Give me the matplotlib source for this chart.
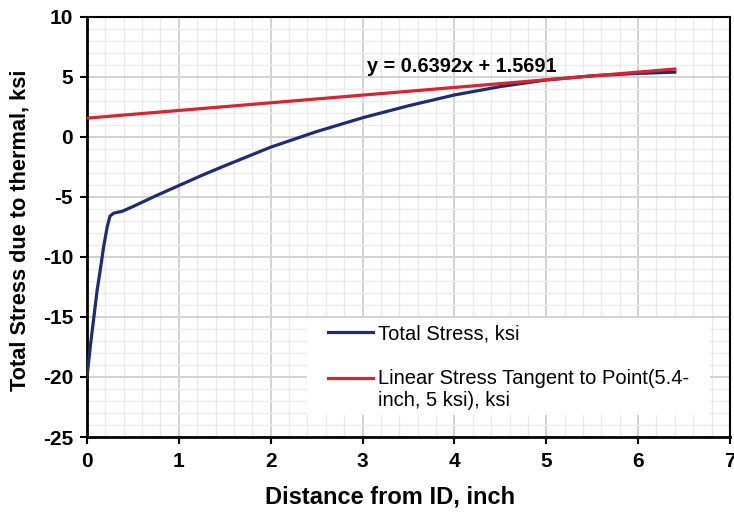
import numpy as np
import matplotlib
matplotlib.use('Agg')
import matplotlib.pyplot as plt
from matplotlib.patches import Rectangle
from matplotlib.ticker import MultipleLocator

# total stress curve
dist = [0.0, 0.04, 0.08, 0.11, 0.15, 0.18, 0.22, 0.25, 0.29, 0.33, 0.38,
        0.5, 0.75, 1.0, 1.25, 1.5, 2.0, 2.5, 3.0, 3.5, 4.0, 4.5, 5.0, 5.5, 6.0, 6.4]
stress = [-20.0, -17.2, -14.7, -12.8, -10.8, -9.2, -7.5, -6.6, -6.35, -6.28, -6.2,
          -5.8, -4.9, -4.05, -3.2, -2.4, -0.85, 0.45, 1.6, 2.6, 3.5, 4.2, 4.75, 5.1, 5.3, 5.4]

# tangent line end points (y = 0.6392x + 1.5691)
lin_x = [0.0, 6.4]
lin_y = [1.5691, 5.6600]

eq_text = 'y = 0.6392x + 1.5691'

plt.rcParams['font.family'] = ['Liberation Sans', 'DejaVu Sans']
plt.rcParams['axes.unicode_minus'] = False

fig = plt.figure(figsize=(7.34, 5.14), dpi=100)
ax = fig.add_axes([0.1185, 0.1498, 0.876, 0.8172])

ax.plot(dist, stress, color='#1f2b74', lw=2.3, label='Total Stress, ksi', zorder=4)
ax.plot(lin_x, lin_y, color='#d9232e', lw=2.3,
        label='Linear Stress Tangent to Point(5.4-\ninch, 5 ksi), ksi', zorder=5)

ax.set_xlim(0, 7)
ax.set_ylim(-25, 10)
ax.xaxis.set_major_locator(MultipleLocator(1))
ax.xaxis.set_minor_locator(MultipleLocator(0.2))
ax.yaxis.set_major_locator(MultipleLocator(5))
ax.yaxis.set_minor_locator(MultipleLocator(1))

ax.grid(which='major', color='#d2d2d2', lw=1.4, zorder=1)
ax.grid(which='minor', color='#ebebeb', lw=1.0, zorder=0)
ax.set_axisbelow(True)

ax.tick_params(which='major', direction='out', length=5, width=1.5, labelsize=15)
ax.tick_params(axis='x', pad=6)
ax.tick_params(axis='y', pad=5)
ax.tick_params(which='minor', length=0)
for lab in ax.get_xticklabels() + ax.get_yticklabels():
    lab.set_fontweight('bold')

for s in ['left', 'bottom']:
    ax.spines[s].set_linewidth(2)
for s in ['top', 'right']:
    ax.spines[s].set_linewidth(1.5)

fig.text(390 / 734, 1 - 497 / 514, 'Distance from ID, inch', fontsize=17, fontweight='bold',
         ha='center', va='center')
fig.text(20 / 734, 1 - 230 / 514, 'Total Stress due to thermal, ksi', fontsize=15.7,
         fontweight='bold', ha='center', va='center', rotation=90)

ax.text(3.05, 5.9, eq_text, fontsize=14.3, fontweight='bold', va='center', ha='left', zorder=6)

# white legend panel
ax.add_patch(Rectangle((0.342, 0.052), 0.627, 0.231, transform=ax.transAxes,
                       facecolor='white', edgecolor='none', zorder=2))

leg = ax.legend(loc='upper left', bbox_to_anchor=(0.375, 0.269), frameon=False,
                fontsize=14.5, handlelength=2.25, handletextpad=0.25, labelspacing=1.3,
                borderpad=0, borderaxespad=0)
# keep the red key level with the first line of its label
red_key = leg.legend_handles[1]
ky = red_key.get_ydata()
red_key.set_ydata([v + 9 for v in ky])

plt.savefig('out.png', dpi=100)
